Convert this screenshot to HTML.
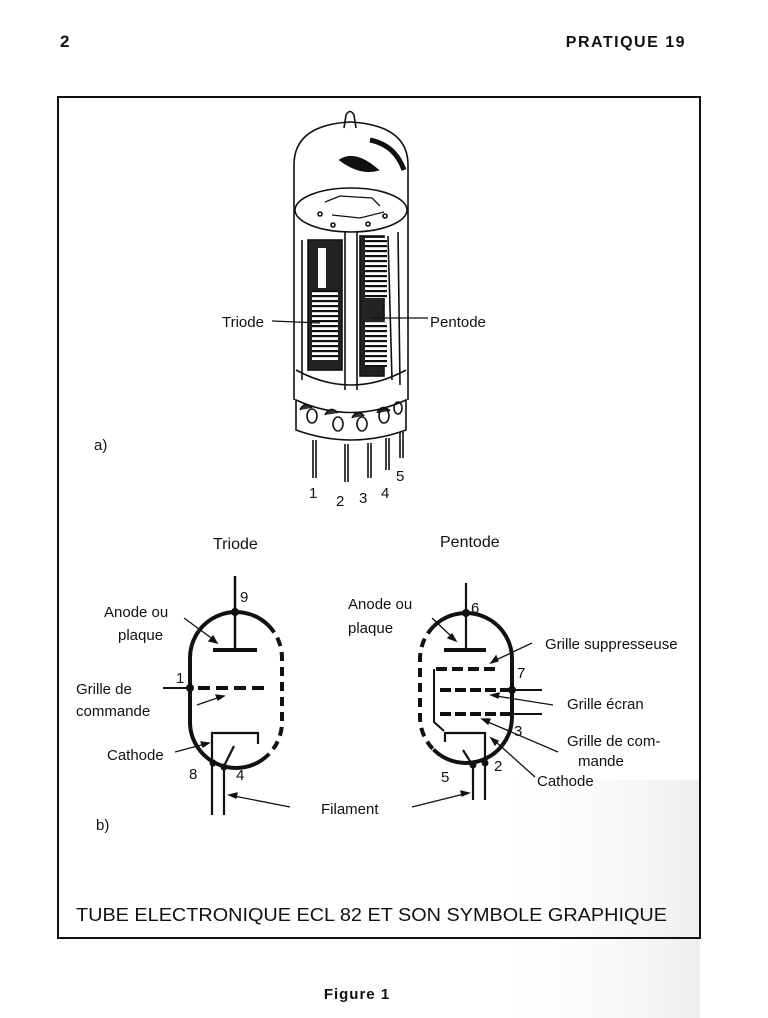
<!DOCTYPE html>
<html><head><meta charset="utf-8"><style>
html,body{margin:0;padding:0;background:#fff}
svg{display:block}
text{font-family:"Liberation Sans",sans-serif;fill:#111}
</style></head><body>
<svg width="768" height="1018" viewBox="0 0 768 1018" xmlns="http://www.w3.org/2000/svg">
<defs>
<pattern id="coil" width="6" height="5" patternUnits="userSpaceOnUse">
<rect width="6" height="5" fill="#fff"/><rect y="0" width="6" height="2.2" fill="#111"/>
</pattern>
<linearGradient id="fade" x1="0" x2="1" y1="0" y2="0">
<stop offset="0" stop-color="#fff" stop-opacity="0"/><stop offset="1" stop-color="#ddd" stop-opacity="0.5"/>
</linearGradient>
</defs>
<rect width="768" height="1018" fill="#fff"/>
<rect x="480" y="780" width="220" height="238" fill="url(#fade)"/>
<text x="60" y="47" font-size="17" font-weight="bold">2</text>
<text x="686" y="47" font-size="16" font-weight="bold" text-anchor="end" letter-spacing="1.5">PRATIQUE 19</text>
<text x="357" y="999" font-size="15" font-weight="bold" text-anchor="middle" letter-spacing="1">Figure 1</text>
<rect x="58" y="97" width="642" height="841" fill="none" stroke="#111" stroke-width="2"/>
<text x="76" y="921" font-size="18" textLength="591" lengthAdjust="spacingAndGlyphs">TUBE ELECTRONIQUE ECL 82 ET SON SYMBOLE GRAPHIQUE</text>

<g stroke="#111" fill="none" stroke-width="1.6">
<path d="M294 400 L294 165 Q294 125 350 122 Q408 125 408 165 L408 400"/>
<path d="M344 128 L346 115 Q350 108 354 115 L356 128"/>
<path d="M340 160 Q355 150 378 170 Q360 175 340 160Z" fill="#111"/>
<path d="M370 140 Q395 145 404 170" stroke-width="5"/>
<ellipse cx="351" cy="210" rx="56" ry="22"/>
<path d="M325 202 L340 196 L372 198 L380 206 M332 215 L360 218 L384 212" stroke-width="1.3"/>
<circle cx="320" cy="214" r="2"/><circle cx="333" cy="225" r="2"/><circle cx="368" cy="224" r="2"/><circle cx="385" cy="216" r="2"/>
<path d="M345 232 L345 390 M357 232 L357 390"/>
<rect x="308" y="240" width="34" height="130" fill="#222"/>
<rect x="312" y="290" width="26" height="70" fill="url(#coil)" stroke="none"/>
<rect x="318" y="248" width="8" height="40" fill="#fff" stroke="none"/>
<rect x="360" y="236" width="24" height="140" fill="#222"/>
<rect x="365" y="238" width="22" height="60" fill="url(#coil)" stroke="none"/>
<rect x="365" y="322" width="22" height="45" fill="url(#coil)" stroke="none"/>
<path d="M388 236 L392 380 M398 232 L400 385 M302 240 L302 380"/>
<path d="M296 370 Q351 400 406 370"/>
<path d="M296 400 Q351 425 406 400 L406 430 Q351 450 296 430Z"/>
<path d="M300 410 Q305 400 312 408 M325 415 Q330 405 338 413 M352 418 Q357 408 364 416 M377 413 Q382 403 390 411" fill="#333"/>
<ellipse cx="312" cy="416" rx="5" ry="7" fill="#fff"/><ellipse cx="338" cy="424" rx="5" ry="7"/><ellipse cx="362" cy="424" rx="5" ry="7"/><ellipse cx="384" cy="416" rx="5" ry="7"/><ellipse cx="398" cy="408" rx="4" ry="6"/>
<path d="M313 440 L313 478 M316 440 L316 478 M345 444 L345 482 M348 444 L348 482 M368 443 L368 478 M371 443 L371 478 M386 438 L386 470 M389 438 L389 470 M400 432 L400 458 M403 432 L403 458"/>
</g>
<text x="309" y="498" font-size="15">1</text>
<text x="336" y="506" font-size="15">2</text>
<text x="359" y="503" font-size="15">3</text>
<text x="381" y="498" font-size="15">4</text>
<text x="396" y="481" font-size="15">5</text>
<text x="222" y="327" font-size="15">Triode</text>
<line x1="272" y1="321" x2="320" y2="323" stroke="#111" stroke-width="1.3"/>
<text x="430" y="327" font-size="15">Pentode</text>
<line x1="372" y1="318" x2="428" y2="318" stroke="#111" stroke-width="1.3"/>
<text x="94" y="450" font-size="15">a)</text>
<text x="96" y="830" font-size="15">b)</text>

<text x="213" y="549" font-size="16">Triode</text>
<text x="440" y="547" font-size="16">Pentode</text>

<!-- TRIODE -->
<g stroke="#111" fill="none">
<path d="M268.5 625.5 A46 46 0 0 0 190 658 L190 722 A46 46 0 0 0 268.5 754.5" stroke-width="4"/>
<path d="M268.5 625.5 A46 46 0 0 1 282 658 L282 722 A46 46 0 0 1 268.5 754.5" stroke-width="4" stroke-dasharray="9 6"/>
<path d="M235 576 L235 650" stroke-width="2.5"/>
<path d="M213 650 L257 650" stroke-width="4"/>
<path d="M163 688 L190 688" stroke-width="2"/>
<path d="M198 688 L266 688" stroke-width="4" stroke-dasharray="12 6"/>
<path d="M212 815 L212 733 L258 733 L258 744 M224 815 L224 766 L234 746" stroke-width="2.2"/>
</g>
<circle cx="235" cy="612" r="4" fill="#111"/>
<circle cx="190" cy="688" r="4" fill="#111"/>
<circle cx="213" cy="763" r="3.5" fill="#111"/><circle cx="224" cy="767" r="3.5" fill="#111"/>
<text x="240" y="602" font-size="15">9</text>
<text x="176" y="683" font-size="15">1</text>
<text x="189" y="779" font-size="15">8</text>
<text x="236" y="780" font-size="15">4</text>
<text x="104" y="617" font-size="15">Anode ou</text>
<text x="118" y="640" font-size="15">plaque</text>
<text x="76" y="694" font-size="15">Grille de</text>
<text x="76" y="716" font-size="15">commande</text>
<text x="107" y="760" font-size="15">Cathode</text>
<g stroke="#111" stroke-width="1.3" fill="#111">
<line x1="184" y1="618" x2="214" y2="640"/><path d="M217 643 l-8 -2 l4 -5z"/>
<line x1="197" y1="705" x2="220" y2="697"/><path d="M224 696 l-8 -1 l2 5z"/>
<line x1="175" y1="752" x2="205" y2="744"/><path d="M209 743 l-8 -1 l2 5z"/>
<line x1="290" y1="807" x2="234" y2="796"/><path d="M229 795 l8 -2 l-1 5z"/>
<line x1="412" y1="807" x2="464" y2="794"/><path d="M469 793 l-8 -2 l1 5z"/>
</g>
<text x="321" y="814" font-size="15">Filament</text>

<!-- PENTODE -->
<g stroke="#111" fill="none">
<path d="M433.5 626.5 A46 46 0 0 1 512 659 L512 717 A46 46 0 0 1 433.5 749.5" stroke-width="4"/>
<path d="M433.5 626.5 A46 46 0 0 0 420 659 L420 717 A46 46 0 0 0 433.5 749.5" stroke-width="4" stroke-dasharray="9 6"/>
<path d="M466 583 L466 650" stroke-width="2.2"/>
<path d="M444 650 L486 650" stroke-width="4"/>
<path d="M434 669 L434 722 L444 731" stroke-width="2"/>
<path d="M436 669 L498 669" stroke-width="4" stroke-dasharray="11 5"/>
<path d="M440 690 L512 690" stroke-width="4" stroke-dasharray="11 4"/>
<path d="M512 690 L542 690 M512 714 L542 714" stroke-width="2"/>
<path d="M440 714 L512 714" stroke-width="4" stroke-dasharray="11 4"/>
<path d="M445 742 L445 733 L485 733 L485 800 M473 800 L473 766 L463 750" stroke-width="2.2"/>
</g>
<circle cx="466" cy="613" r="4" fill="#111"/>
<circle cx="512" cy="690" r="4" fill="#111"/>
<circle cx="473" cy="765" r="3.5" fill="#111"/><circle cx="485" cy="763" r="3.5" fill="#111"/>
<text x="471" y="613" font-size="15">6</text>
<text x="517" y="678" font-size="15">7</text>
<text x="514" y="736" font-size="15">3</text>
<text x="494" y="771" font-size="15">2</text>
<text x="441" y="782" font-size="15">5</text>
<text x="348" y="609" font-size="15">Anode ou</text>
<text x="348" y="633" font-size="15">plaque</text>
<text x="545" y="649" font-size="15">Grille suppresseuse</text>
<text x="567" y="709" font-size="15">Grille écran</text>
<text x="567" y="746" font-size="15">Grille de com-</text>
<text x="578" y="766" font-size="15">mande</text>
<text x="537" y="786" font-size="15">Cathode</text>
<g stroke="#111" stroke-width="1.3" fill="#111">
<line x1="432" y1="618" x2="452" y2="637"/><path d="M456 641 l-8 -3 l4 -4z"/>
<line x1="532" y1="643" x2="496" y2="660"/><path d="M491 663 l5 -7 l2 5z"/>
<line x1="553" y1="705" x2="496" y2="696"/><path d="M491 695 l8 -2 l-1 5z"/>
<line x1="558" y1="752" x2="488" y2="722"/><path d="M482 719 l8 0 l-2 5z"/>
<line x1="535" y1="777" x2="496" y2="742"/><path d="M491 738 l7 3 l-3 4z"/>
</g>
</svg>
</body></html>
